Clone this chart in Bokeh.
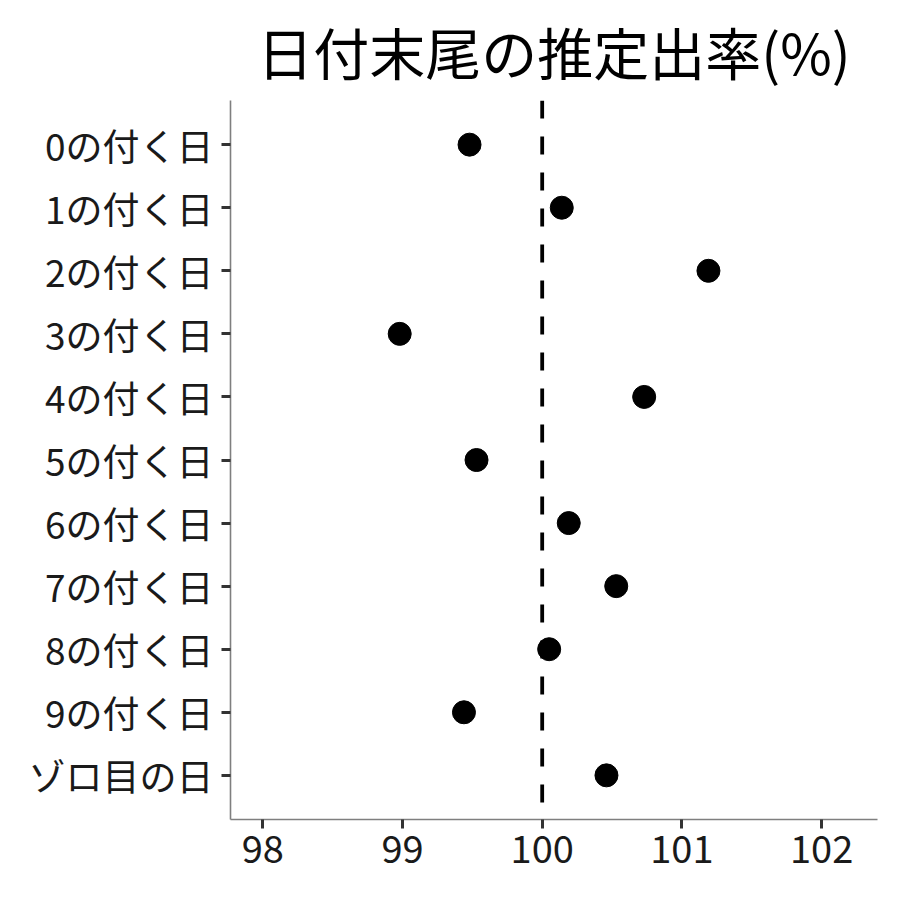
from bokeh.plotting import figure
from bokeh.models import FactorRange, Range1d, Span, ColumnDataSource, FixedTicker
from bokeh.embed import file_html
from bokeh.resources import INLINE

title_text = "日付末尾の推定出率(%)"
categories = ["0の付く日", "1の付く日", "2の付く日", "3の付く日", "4の付く日",
              "5の付く日", "6の付く日", "7の付く日", "8の付く日", "9の付く日", "ゾロ目の日"]
rates = [99.48, 100.14, 101.19, 98.98, 100.73, 99.53, 100.19, 100.53, 100.05, 99.44, 100.46]
x_ticks = [98, 99, 100, 101, 102]
reference_rate = 100

FONT = "Noto Sans CJK JP"

src = ColumnDataSource(data=dict(cat=categories, rate=rates))

p = figure(
    y_range=FactorRange(factors=list(reversed(categories)), range_padding=0.2,
                        range_padding_units="absolute"),
    x_range=Range1d(97.769, 102.40),
    frame_width=647, frame_height=719,
    min_border_left=230, min_border_right=15, min_border_top=0, min_border_bottom=60,
    output_backend="svg", toolbar_location=None, title=title_text,
)

p.title.text_font = FONT
p.title.text_font_size = "56px"
p.title.text_font_style = "normal"
p.title.text_color = "black"
p.title.align = "center"
p.title.vertical_align = "middle"
p.title.standoff = 17

p.outline_line_color = None
p.xgrid.grid_line_color = None
p.ygrid.grid_line_color = None
p.background_fill_color = "white"
p.border_fill_color = "white"

for ax in (p.xaxis[0], p.yaxis[0]):
    ax.axis_line_color = "#7f7f7f"
    ax.axis_line_width = 1.6
    ax.major_tick_line_color = "#333333"
    ax.major_tick_line_width = 3
    ax.major_tick_out = 9
    ax.major_tick_in = 0
    ax.minor_tick_line_color = None
    ax.major_label_text_font = FONT
    ax.major_label_text_color = "#1a1a1a"

p.xaxis[0].major_label_text_font_size = "38px"
p.xaxis[0].major_label_standoff = 6
p.yaxis[0].major_label_text_font_size = "37px"
p.yaxis[0].major_label_standoff = 8

p.xaxis[0].ticker = FixedTicker(ticks=x_ticks)

p.add_layout(Span(location=reference_rate, dimension="height", line_color="black",
                  line_width=3.8, line_dash="18 18"))

p.scatter(x="rate", y="cat", source=src, size=23, color="black")

open("out.html", "w").write(file_html(p, INLINE))
